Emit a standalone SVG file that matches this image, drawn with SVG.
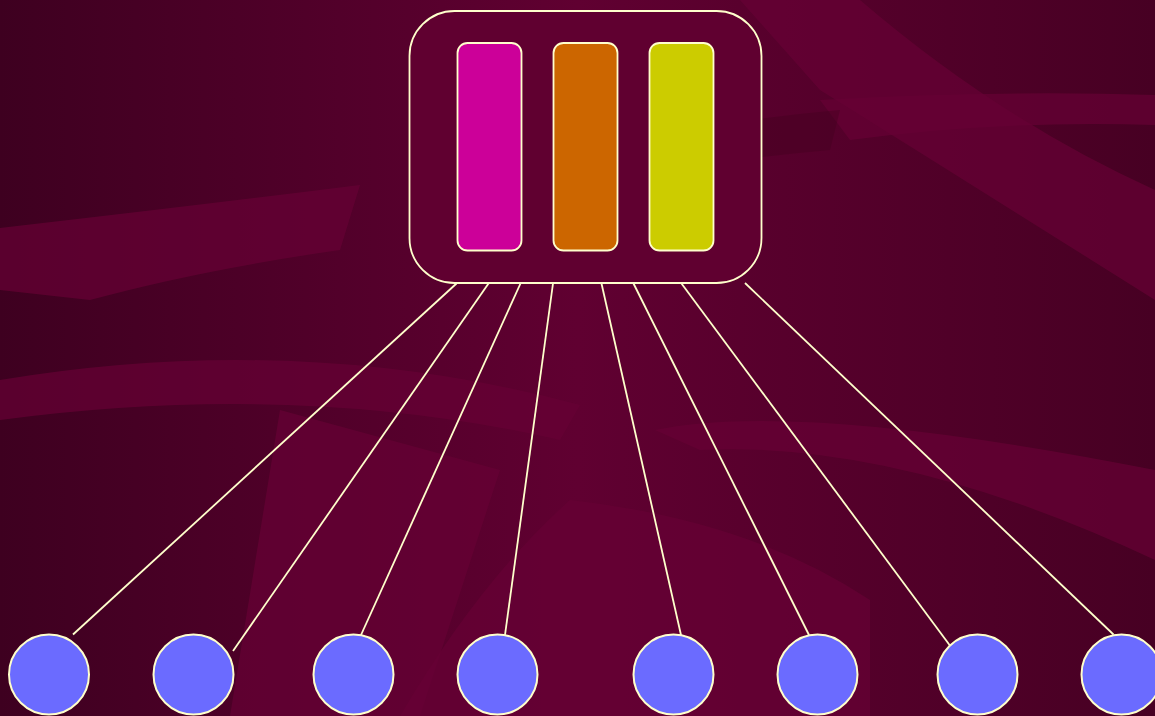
<svg xmlns="http://www.w3.org/2000/svg" width="1155" height="716" viewBox="0 0 1155 716">
<defs>
<linearGradient id="bg" x1="0" y1="0" x2="1" y2="0">
<stop offset="0" stop-color="#3e0020"/>
<stop offset="0.5" stop-color="#600031"/>
<stop offset="1" stop-color="#470023"/>
</linearGradient>
<style>
.sw{fill:#660035;opacity:0.7}
.sd{fill:#3e001d;opacity:0.35}
.ln{stroke:#ffffcc;stroke-width:1.8;fill:none}
.bar{stroke:#ffffcc;stroke-width:1.8}
.nd{fill:#6b6bff;stroke:#ffffcc;stroke-width:2}
</style>
</defs>
<g id="background">
<rect x="0" y="0" width="1155" height="716" fill="url(#bg)"/>
<path class="sw" d="M0,228 Q200,205 360,185 L340,250 Q200,270 90,300 L0,290 Z"/>
<path class="sw" d="M0,380 Q300,330 580,405 L560,440 Q300,380 0,420 Z"/>
<path class="sw" d="M820,100 Q1000,90 1155,95 L1155,125 Q1000,120 850,140 Z"/>
<path class="sw" d="M740,0 L860,0 Q1000,120 1155,190 L1155,300 Q980,190 820,90 Z"/>
<path class="sw" d="M655,430 Q800,400 1155,470 L1155,560 Q900,440 700,450 Z"/>
<path class="sw" d="M280,410 L500,470 L420,716 L230,716 Z" opacity="0.5"/>
<path class="sw" d="M570,500 Q750,520 870,600 L870,716 L400,716 Q480,580 570,500 Z" opacity="0.6"/>
<path class="sd" d="M430,230 Q600,170 830,150 L840,110 Q620,130 440,190 Z"/>
</g>
<g id="connectors">
<line class="ln" x1="456.5" y1="283.5" x2="73" y2="634.5"/>
<line class="ln" x1="488.5" y1="283.5" x2="233" y2="651"/>
<line class="ln" x1="520.5" y1="283.5" x2="361" y2="635"/>
<line class="ln" x1="553" y1="283.5" x2="505" y2="635"/>
<line class="ln" x1="601.5" y1="283.5" x2="681" y2="635"/>
<line class="ln" x1="633.5" y1="283.5" x2="809" y2="635"/>
<line class="ln" x1="681.5" y1="283.5" x2="954" y2="651"/>
<line class="ln" x1="745" y1="283" x2="1113.5" y2="634.5"/>
</g>
<g id="container">
<rect x="409.5" y="11" width="352" height="272" rx="45" ry="45" fill="#600030" stroke="#ffffcc" stroke-width="1.8"/>
</g>
<g id="bar-pink"><rect class="bar" x="457.5" y="43" width="64" height="207.5" rx="10" fill="#cc0099"/></g>
<g id="bar-orange"><rect class="bar" x="553.5" y="43" width="64" height="207.5" rx="10" fill="#cc6600"/></g>
<g id="bar-yellow"><rect class="bar" x="649.5" y="43" width="64" height="207.5" rx="10" fill="#cccc00"/></g>
<g id="node1"><circle class="nd" cx="49" cy="674.5" r="40"/></g>
<g id="node2"><circle class="nd" cx="193.5" cy="674.5" r="40"/></g>
<g id="node3"><circle class="nd" cx="353.5" cy="674.5" r="40"/></g>
<g id="node4"><circle class="nd" cx="497.5" cy="674.5" r="40"/></g>
<g id="node5"><circle class="nd" cx="673.5" cy="674.5" r="40"/></g>
<g id="node6"><circle class="nd" cx="817.5" cy="674.5" r="40"/></g>
<g id="node7"><circle class="nd" cx="977.5" cy="674.5" r="40"/></g>
<g id="node8"><circle class="nd" cx="1121.5" cy="674.5" r="40"/></g>
</svg>
